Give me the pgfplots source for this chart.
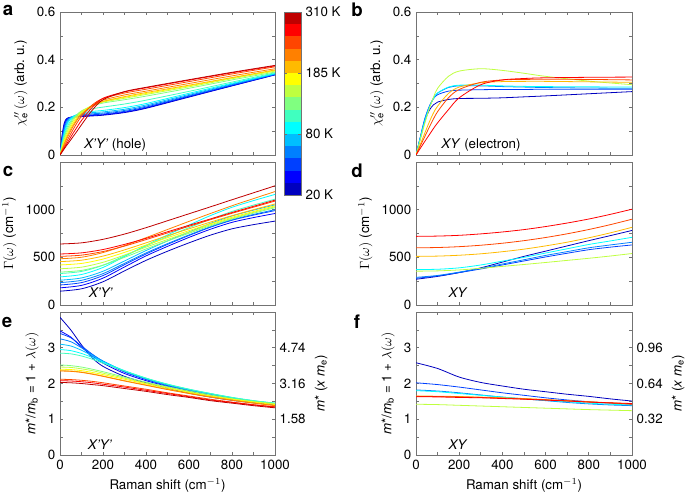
\documentclass[border=0pt]{standalone}
\usepackage{pgfplots}
\pgfplotsset{compat=1.18}
\usepackage{pgfplotstable}
\usepackage{fontspec}
\setmainfont{TeX Gyre Heros}
\definecolor{J0}{rgb}{0,0,0.75}
\definecolor{J1}{rgb}{0,0,1}
\definecolor{J2}{rgb}{0,0.25,1}
\definecolor{J3}{rgb}{0,0.5,1}
\definecolor{J4}{rgb}{0,0.75,1}
\definecolor{J5}{rgb}{0,1,1}
\definecolor{J6}{rgb}{0.25,1,0.75}
\definecolor{J7}{rgb}{0.5,1,0.5}
\definecolor{J8}{rgb}{0.75,1,0.25}
\definecolor{J9}{rgb}{1,1,0}
\definecolor{J10}{rgb}{1,0.73,0}
\definecolor{J11}{rgb}{1,0.5,0}
\definecolor{J12}{rgb}{1,0.27,0}
\definecolor{J13}{rgb}{1,0,0}
\definecolor{J14}{rgb}{0.75,0,0}
\definecolor{frame}{gray}{0.45}

% panel a: chi'' X'Y'
\pgfplotstableread{
x k0 k1 k2 k3 k4 k5 k6 k7 k8 k9 k10 k11 k12 k13 k14
0 0 0 0 0 0 0 0 0 0 0 0 0 0 0 0
10 .085 .078 .070 .062 .056 .050 .045 .040 .034 .030 .025 .022 .018 .015 .013
20 .135 .128 .120 .110 .100 .090 .082 .075 .066 .058 .050 .044 .036 .030 .026
30 .152 .149 .145 .138 .130 .120 .110 .100 .090 .081 .072 .065 .054 .045 .039
40 .157 .156 .154 .151 .147 .140 .130 .120 .110 .101 .092 .084 .072 .060 .051
60 .159 .160 .161 .162 .162 .160 .155 .150 .143 .134 .125 .118 .105 .090 .076
80 .160 .161 .163 .166 .169 .170 .170 .170 .166 .159 .152 .147 .136 .118 .101
100 .161 .163 .165 .169 .173 .176 .180 .185 .183 .178 .172 .170 .162 .145 .127
150 .164 .166 .169 .173 .178 .183 .194 .205 .208 .207 .205 .208 .210 .200 .188
200 .167 .169 .172 .176 .181 .187 .201 .218 .222 .224 .225 .230 .237 .238 .232
300 .178 .180 .183 .187 .192 .199 .214 .232 .238 .242 .245 .252 .260 .265 .266
400 .196 .198 .201 .205 .210 .216 .230 .247 .254 .258 .262 .268 .276 .282 .284
600 .243 .245 .247 .250 .254 .259 .267 .280 .286 .290 .293 .300 .308 .314 .316
800 .290 .291 .293 .295 .298 .301 .306 .315 .320 .323 .325 .332 .340 .345 .347
1000 .336 .337 .338 .339 .340 .342 .345 .348 .352 .355 .357 .362 .370 .374 .376
}\dataA

% panel b: chi'' XY
\pgfplotstableread{
x b0 b1 b2 b3 b4 b5 b6 b7
0 0 0 0 0 0 0 0 0
20 .070 .075 .075 .072 .065 .045 .038 .028
40 .140 .150 .148 .140 .130 .090 .076 .056
60 .185 .200 .200 .195 .190 .135 .114 .083
80 .210 .235 .238 .235 .240 .175 .150 .110
100 .222 .253 .260 .260 .280 .205 .182 .135
150 .233 .268 .283 .285 .330 .258 .240 .190
200 .237 .272 .290 .293 .352 .285 .275 .240
300 .238 .274 .290 .293 .362 .303 .305 .295
400 .240 .275 .287 .290 .355 .308 .315 .315
500 .244 .275 .285 .288 .343 .309 .317 .321
600 .248 .276 .283 .287 .330 .309 .318 .324
800 .257 .276 .281 .286 .310 .307 .317 .326
1000 .266 .276 .280 .285 .295 .305 .315 .327
}\dataB

% panel c: Gamma X'Y'
\pgfplotstableread{
x k0 k1 k2 k3 k4 k5 k6 k7 k8 k9 k10 k11 k12 k13 k14
0 145 180 210 235 260 295 330 345 380 420 455 485 510 535 640
100 170 206 235 259 284 320 352 363 397 436 470 501 523 547 652
200 244 282 309 329 354 394 417 418 448 482 513 550 561 582 689
300 358 399 423 437 462 509 516 500 524 552 578 623 618 636 744
400 468 515 535 546 571 626 619 588 607 629 652 706 686 699 811
500 564 615 636 644 672 735 718 672 687 706 727 792 756 768 884
600 652 709 729 735 766 839 811 753 765 780 799 877 826 836 957
700 733 795 816 821 856 938 900 831 841 852 870 960 895 903 1030
800 799 867 889 894 934 1025 981 902 910 920 937 1041 962 970 1104
900 843 917 943 950 995 1095 1048 963 972 981 1000 1116 1026 1035 1177
1000 880 960 990 1000 1050 1160 1110 1020 1030 1040 1060 1190 1090 1100 1250
}\dataC

% panel d: Gamma XY
\pgfplotstableread{
x b0 b1 b2 b3 b4 b5 b6 b7
0 270 280 290 372 355 510 600 720
100 300 305 310 375 358 513 603 723
200 340 340 345 390 368 522 612 731
300 390 378 385 420 385 537 627 746
400 450 420 430 460 405 559 648 766
500 510 462 475 500 425 586 675 791
600 565 504 520 545 446 620 708 823
700 620 543 560 590 468 659 747 860
800 675 580 600 635 490 705 792 902
900 728 607 630 672 514 757 843 951
1000 782 630 658 710 540 815 900 1005
}\dataD

% panel e: mass X'Y'
\pgfplotstableread{
x k0 k1 k2 k3 k4 k5 k6 k7 k8 k9 k10 k11 k12 k13 k14
0 3.85 3.47 3.40 3.25 3.10 2.95 2.85 2.52 2.46 2.40 2.36 2.35 2.12 2.08 2.03
50 3.50 3.30 3.28 3.17 3.05 2.92 2.83 2.50 2.45 2.39 2.35 2.34 2.11 2.07 2.02
100 3.08 3.02 3.05 3.00 2.93 2.84 2.77 2.46 2.41 2.36 2.32 2.31 2.09 2.05 2.00
150 2.72 2.77 2.82 2.81 2.78 2.73 2.68 2.40 2.36 2.31 2.27 2.26 2.06 2.02 1.97
200 2.48 2.57 2.62 2.63 2.62 2.60 2.57 2.33 2.29 2.25 2.21 2.20 2.02 1.98 1.94
300 2.20 2.28 2.32 2.34 2.35 2.36 2.35 2.18 2.15 2.12 2.08 2.07 1.93 1.90 1.86
400 2.02 2.08 2.11 2.13 2.14 2.15 2.15 2.04 2.01 1.99 1.96 1.95 1.84 1.81 1.78
500 1.87 1.92 1.94 1.96 1.97 1.98 1.98 1.91 1.89 1.87 1.84 1.83 1.74 1.72 1.69
600 1.73 1.78 1.80 1.82 1.83 1.84 1.84 1.79 1.77 1.75 1.73 1.72 1.65 1.63 1.61
700 1.62 1.66 1.68 1.70 1.71 1.72 1.72 1.68 1.66 1.65 1.63 1.62 1.56 1.54 1.52
800 1.53 1.56 1.58 1.59 1.60 1.61 1.61 1.58 1.57 1.56 1.54 1.53 1.48 1.47 1.45
900 1.46 1.48 1.49 1.50 1.51 1.52 1.52 1.50 1.49 1.48 1.46 1.45 1.41 1.40 1.38
1000 1.40 1.41 1.42 1.43 1.44 1.45 1.45 1.44 1.43 1.41 1.39 1.38 1.35 1.34 1.32
}\dataE

% panel f: mass XY
\pgfplotstableread{
x b0 b1 b2 b3 b4 b5 b6 b7
0 2.58 2.02 1.82 1.80 1.42 1.65 1.64 1.63
100 2.42 1.97 1.79 1.77 1.41 1.645 1.635 1.625
200 2.18 1.90 1.74 1.72 1.39 1.635 1.625 1.61
300 2.03 1.82 1.68 1.67 1.37 1.62 1.61 1.60
400 1.93 1.74 1.62 1.62 1.35 1.60 1.59 1.58
500 1.84 1.67 1.57 1.57 1.33 1.58 1.57 1.56
600 1.77 1.60 1.52 1.53 1.31 1.55 1.545 1.535
700 1.70 1.54 1.47 1.49 1.29 1.52 1.515 1.51
800 1.64 1.49 1.43 1.45 1.27 1.49 1.485 1.48
900 1.57 1.45 1.40 1.42 1.255 1.46 1.455 1.46
1000 1.51 1.42 1.38 1.40 1.24 1.43 1.42 1.44
}\dataF

\pgfplotsset{
  panel/.style={anchor=south west, scale only axis, height=107.25pt,
    xmin=0, xmax=1000,
    xtick={0,200,...,1000}, minor xtick={100,300,...,900},
    tick align=inside, major tick length=2.6pt, minor tick length=2.6pt,
    axis line style={frame, line width=0.6pt},
    every tick/.style={frame, line width=0.5pt},
    tick label style={font=\fontsize{10}{12}\selectfont, black},
    label style={font=\fontsize{10}{12}\selectfont},
    /pgf/number format/assume math mode=true,
    /pgf/number format/1000 sep={},
    every axis plot/.append style={line width=0.6pt, smooth, no markers}},
  rightax/.style={anchor=south west, scale only axis, width=161.25pt, height=107.25pt,
    xmin=0, xmax=1000, ymin=0, ymax=4,
    axis x line=none, axis y line*=right, axis line style={draw=none},
    ytick={1,2,3}, major tick length=0pt,
    tick label style={font=\fontsize{10}{12}\selectfont, black},
    label style={font=\fontsize{10}{12}\selectfont},
    /pgf/number format/assume math mode=true},
  bandcolors/.style={}
}
\newcommand{\lettr}[1]{\textbf{\fontsize{14}{14}\selectfont #1}}

\begin{document}
\begin{tikzpicture}
\useasboundingbox (0,0) rectangle (513.75pt,370.5pt);

% ---------- a ----------
\begin{axis}[panel, at={(45pt,254.25pt)}, width=161.25pt,
  ymin=0, ymax=0.6, ytick={0,0.2,0.4,0.6}, minor ytick={0.1,0.3,0.5},
  xticklabels={},
  ylabel={$\chi''_{\mathrm{e}}\,(\omega)$ (arb.\ u.)}]
\pgfplotsinvokeforeach{0,...,14}{\addplot[J#1] table[x=x,y=k#1]{\dataA};}
\node[font=\fontsize{10}{12}\selectfont] at (axis cs:256,0.042) {\textit{X’Y’} (hole)};
\end{axis}

% ---------- b ----------
\begin{axis}[panel, at={(312pt,254.25pt)}, width=162pt,
  ymin=0, ymax=0.6, ytick={0,0.2,0.4,0.6}, minor ytick={0.1,0.3,0.5},
  xticklabels={},
  ylabel={$\chi''_{\mathrm{e}}\,(\omega)$ (arb.\ u.)}]
\addplot[J0] table[x=x,y=b0]{\dataB};
\addplot[J2] table[x=x,y=b1]{\dataB};
\addplot[J3] table[x=x,y=b2]{\dataB};
\addplot[J5] table[x=x,y=b3]{\dataB};
\addplot[J8] table[x=x,y=b4]{\dataB};
\addplot[J10] table[x=x,y=b5]{\dataB};
\addplot[J12] table[x=x,y=b6]{\dataB};
\addplot[J13] table[x=x,y=b7]{\dataB};
\node[font=\fontsize{10}{12}\selectfont] at (axis cs:301,0.042) {\textit{XY} (electron)};
\end{axis}

% ---------- c ----------
\begin{axis}[panel, at={(45pt,141.75pt)}, width=161.25pt,
  ymin=0, ymax=1500, ytick={0,500,1000}, minor ytick={250,750,1250},
  xticklabels={},
  ylabel={$\Gamma(\omega)$ (cm$^{-1}$)}]
\pgfplotsinvokeforeach{0,...,14}{\addplot[J#1] table[x=x,y=k#1]{\dataC};}
\node[font=\fontsize{10}{12}\selectfont] at (axis cs:190,126) {\textit{X’Y’}};
\end{axis}

% ---------- d ----------
\begin{axis}[panel, at={(312pt,141.75pt)}, width=162pt,
  ymin=0, ymax=1500, ytick={0,500,1000}, minor ytick={250,750,1250},
  xticklabels={},
  ylabel={$\Gamma(\omega)$ (cm$^{-1}$)}]
\addplot[J0] table[x=x,y=b0]{\dataD};
\addplot[J2] table[x=x,y=b1]{\dataD};
\addplot[J3] table[x=x,y=b2]{\dataD};
\addplot[J5] table[x=x,y=b3]{\dataD};
\addplot[J8] table[x=x,y=b4]{\dataD};
\addplot[J10] table[x=x,y=b5]{\dataD};
\addplot[J12] table[x=x,y=b6]{\dataD};
\addplot[J13] table[x=x,y=b7]{\dataD};
\node[font=\fontsize{10}{12}\selectfont] at (axis cs:195,126) {\textit{XY}};
\end{axis}

% ---------- e ----------
\begin{axis}[panel, at={(45pt,29.25pt)}, width=161.25pt,
  ymin=0, ymax=4, ytick={0,1,2,3}, minor ytick={0.5,1.5,2.5,3.5},
  xlabel={Raman shift (cm$^{-1}$)},
  ylabel={\textit{m}*/\textit{m}\textsubscript{b} = 1 + $\lambda(\omega)$}]
\pgfplotsinvokeforeach{0,...,14}{\addplot[J#1] table[x=x,y=k#1]{\dataE};}
\node[font=\fontsize{10}{12}\selectfont] at (axis cs:186,0.28) {\textit{X’Y’}};
\end{axis}
\begin{axis}[rightax, at={(45pt,29.25pt)},
  yticklabels={1.58,3.16,4.74},
  ylabel={\textit{m}* (\textit{x m}\textsubscript{e})}]
\addplot[draw=none] coordinates {(0,0)};
\end{axis}

% ---------- f ----------
\begin{axis}[panel, at={(312pt,29.25pt)}, width=162pt,
  ymin=0, ymax=4, ytick={0,1,2,3}, minor ytick={0.5,1.5,2.5,3.5},
  xlabel={Raman shift (cm$^{-1}$)},
  ylabel={\textit{m}*/\textit{m}\textsubscript{b} = 1 + $\lambda(\omega)$}]
\addplot[J0] table[x=x,y=b0]{\dataF};
\addplot[J2] table[x=x,y=b1]{\dataF};
\addplot[J3] table[x=x,y=b2]{\dataF};
\addplot[J5] table[x=x,y=b3]{\dataF};
\addplot[J8] table[x=x,y=b4]{\dataF};
\addplot[J10] table[x=x,y=b5]{\dataF};
\addplot[J12] table[x=x,y=b6]{\dataF};
\addplot[J13] table[x=x,y=b7]{\dataF};
\node[font=\fontsize{10}{12}\selectfont] at (axis cs:195,0.28) {\textit{XY}};
\end{axis}
\begin{axis}[rightax, at={(312pt,29.25pt)}, width=162pt,
  yticklabels={0.32,0.64,0.96},
  ylabel={\textit{m}* (\textit{x m}\textsubscript{e})}]
\addplot[draw=none] coordinates {(0,0)};
\end{axis}

% ---------- colorbar ----------
\begin{axis}[anchor=south west, at={(213pt,224.25pt)}, scale only axis,
  width=12.75pt, height=137.25pt, xmin=0, xmax=1, ymin=0, ymax=15,
  axis on top, xtick=\empty, ytick={0,5,10,15},
  yticklabels={20 K,80 K,185 K,310 K}, yticklabel pos=right,
  tick align=inside, major tick length=2pt,
  axis line style={frame, line width=0.6pt},
  every tick/.style={frame, line width=0.5pt},
  tick label style={font=\fontsize{10}{12}\selectfont, black}]
\addplot[fill=J0, draw=none] coordinates {(0,0) (1,0) (1,1) (0,1)} -- cycle;
\addplot[fill=J1, draw=none] coordinates {(0,1) (1,1) (1,2) (0,2)} -- cycle;
\addplot[fill=J2, draw=none] coordinates {(0,2) (1,2) (1,3) (0,3)} -- cycle;
\addplot[fill=J3, draw=none] coordinates {(0,3) (1,3) (1,4) (0,4)} -- cycle;
\addplot[fill=J4, draw=none] coordinates {(0,4) (1,4) (1,5) (0,5)} -- cycle;
\addplot[fill=J5, draw=none] coordinates {(0,5) (1,5) (1,6) (0,6)} -- cycle;
\addplot[fill=J6, draw=none] coordinates {(0,6) (1,6) (1,7) (0,7)} -- cycle;
\addplot[fill=J7, draw=none] coordinates {(0,7) (1,7) (1,8) (0,8)} -- cycle;
\addplot[fill=J8, draw=none] coordinates {(0,8) (1,8) (1,9) (0,9)} -- cycle;
\addplot[fill=J9, draw=none] coordinates {(0,9) (1,9) (1,10) (0,10)} -- cycle;
\addplot[fill=J10, draw=none] coordinates {(0,10) (1,10) (1,11) (0,11)} -- cycle;
\addplot[fill=J11, draw=none] coordinates {(0,11) (1,11) (1,12) (0,12)} -- cycle;
\addplot[fill=J12, draw=none] coordinates {(0,12) (1,12) (1,13) (0,13)} -- cycle;
\addplot[fill=J13, draw=none] coordinates {(0,13) (1,13) (1,14) (0,14)} -- cycle;
\addplot[fill=J14, draw=none] coordinates {(0,14) (1,14) (1,15) (0,15)} -- cycle;
\end{axis}

% panel letters
\node at (6pt,363pt) {\lettr{a}};
\node at (267.75pt,363pt) {\lettr{b}};
\node at (6pt,242.25pt) {\lettr{c}};
\node at (267.75pt,242.25pt) {\lettr{d}};
\node at (5.25pt,129pt) {\lettr{e}};
\node at (267.75pt,129pt) {\lettr{f}};
\end{tikzpicture}
\end{document}
